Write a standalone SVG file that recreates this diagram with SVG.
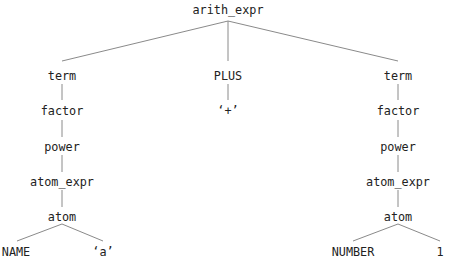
<svg xmlns="http://www.w3.org/2000/svg" width="450" height="261" viewBox="0 0 450 261">
  <style>
    text { font-family: "DejaVu Sans Mono", "Liberation Mono", monospace; font-size: 11.8px; fill: #222; text-anchor: middle; }
    .edges line { stroke: #8a8a8a; stroke-width: 1; fill: none; }
  </style>
  <rect width="450" height="261" fill="#fff"/>
  <g class="edges">
    <line x1="228" y1="21" x2="62" y2="61"/>
    <line x1="228" y1="21" x2="228" y2="61"/>
    <line x1="228" y1="21" x2="398" y2="61"/>
    <line x1="228" y1="84" x2="228" y2="100"/>
    <line x1="62" y1="84" x2="62" y2="100"/>
    <line x1="62" y1="120" x2="62" y2="137"/>
    <line x1="62" y1="155" x2="62" y2="172"/>
    <line x1="62" y1="190" x2="62" y2="207"/>
    <line x1="62" y1="224" x2="17" y2="241"/>
    <line x1="62" y1="224" x2="103" y2="241"/>
    <line x1="398" y1="84" x2="398" y2="100"/>
    <line x1="398" y1="120" x2="398" y2="137"/>
    <line x1="398" y1="155" x2="398" y2="172"/>
    <line x1="398" y1="190" x2="398" y2="207"/>
    <line x1="398" y1="224" x2="353" y2="241"/>
    <line x1="398" y1="224" x2="440" y2="241"/>
  </g>
  <g id="arith_expr"><text x="228" y="14">arith_expr</text></g>
  <g id="term_left"><text x="62" y="80">term</text></g>
  <g id="plus"><text x="228" y="80">PLUS</text></g>
  <g id="term_right"><text x="398" y="80">term</text></g>
  <g id="plus_tok"><text x="228" y="115">‘+’</text></g>
  <g id="factor_left"><text x="62" y="115">factor</text></g>
  <g id="power_left"><text x="62" y="151">power</text></g>
  <g id="atom_expr_left"><text x="62" y="186">atom_expr</text></g>
  <g id="atom_left"><text x="62" y="221">atom</text></g>
  <g id="name"><text x="16" y="256">NAME</text></g>
  <g id="name_val"><text x="103" y="256">‘a’</text></g>
  <g id="factor_right"><text x="398" y="115">factor</text></g>
  <g id="power_right"><text x="398" y="151">power</text></g>
  <g id="atom_expr_right"><text x="398" y="186">atom_expr</text></g>
  <g id="atom_right"><text x="398" y="221">atom</text></g>
  <g id="number"><text x="353" y="256">NUMBER</text></g>
  <g id="number_val"><text x="440" y="256">1</text></g>
</svg>
